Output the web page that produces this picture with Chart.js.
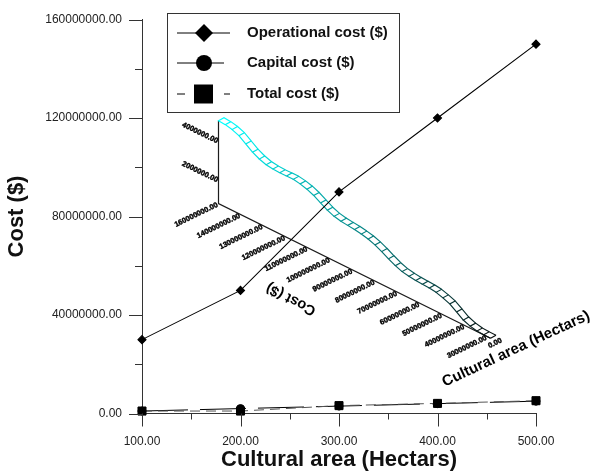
<!DOCTYPE html>
<html><head><meta charset="utf-8">
<style>html,body{margin:0;padding:0;background:#fff}canvas{display:block}</style>
<script src="https://cdn.jsdelivr.net/npm/chart.js@4"></script></head>
<body><canvas id="c" width="591" height="474"></canvas>
<script>
const areas = [100, 200, 300, 400, 500];
const operational = [30000000, 50000000, 90000000, 120000000, 150000000];
const capital = [1000000, 2000000, 3000000, 4000000, 5000000];
const total = [1000000, 1000000, 3200000, 4100000, 5200000];
const xMajor = [100, 200, 300, 400, 500];
const xTickLabels = ['100.00', '200.00', '300.00', '400.00', '500.00'];
const yMajor = [0, 40000000, 80000000, 120000000, 160000000];
const yTickLabels = ['0.00', '40000000.00', '80000000.00', '120000000.00', '160000000.00'];

// Inset 3-D ribbon: position along the cost floor axis (millions) and height (millions)
const insetCost = [160,156,152,148,144,140,136,132,128,124,120,116,112,108,104,100,96,92,88,84,80,76,72,68,64,60,56,52,48,44,40,36,32,28,24,20,16,12,8,4,0];
const insetHeight = [4.25,4.22,4.14,4.00,3.75,3.50,3.32,3.20,3.15,3.13,3.14,3.14,3.08,2.98,2.83,2.62,2.42,2.28,2.20,2.16,2.12,2.06,1.98,1.85,1.68,1.48,1.30,1.17,1.10,1.06,1.04,1.02,0.97,0.86,0.72,0.48,0.24,0.10,0.02,0,0];
const insetCostLabels = ['160000000.00','140000000.00','130000000.00','120000000.00','110000000.00','100000000.00','90000000.00','80000000.00','70000000.00','60000000.00','50000000.00','40000000.00','30000000.00'];
const insetHeightTicks = [2, 4];
const insetHeightLabels = ['2000000.00', '4000000.00'];

const ink = '#1c1c1c';
const FONT = '"Liberation Sans", Arial, sans-serif';

function project(chart, cost, h) {
  const sx = chart.scales.insetX, sy = chart.scales.insetY;
  const x = sx.getPixelForValue(cost);
  const x0 = sx.getPixelForValue(160);
  return [x, sy.getPixelForValue(h) + 0.495 * (x - x0)];
}

const insetPlugin = {
  id: 'inset',
  beforeDatasetsDraw(chart) {
    const ctx = chart.ctx;
    ctx.save();
    const o = project(chart, 160, 0), end = project(chart, 0, 0), top = project(chart, 160, 4.25);
    ctx.strokeStyle = ink; ctx.lineWidth = 1.2;
    ctx.beginPath(); ctx.moveTo(top[0], top[1]); ctx.lineTo(o[0], o[1]); ctx.lineTo(end[0], end[1]); ctx.stroke();
    // ribbon
    const dx = 5.5, dy = -3, n = insetCost.length;
    ctx.lineWidth = 1.15;
    for (let i = 0; i < n; i++) {
      const p = project(chart, insetCost[i], insetHeight[i]);
      const f = i / (n - 1);
      const col = `rgb(${Math.round(10*f)},${Math.round(255*(1-f*0.95))},${Math.round(255*(1-f*0.95))})`;
      ctx.strokeStyle = col;
      ctx.beginPath();
      if (i < n - 1) {
        const q = project(chart, insetCost[i+1], insetHeight[i+1]);
        ctx.moveTo(q[0], q[1]); ctx.lineTo(p[0], p[1]); ctx.lineTo(p[0]+dx, p[1]+dy); ctx.lineTo(q[0]+dx, q[1]+dy);
      } else {
        ctx.moveTo(p[0], p[1]); ctx.lineTo(p[0]+dx, p[1]+dy);
      }
      ctx.stroke();
    }
    // labels
    ctx.fillStyle = '#000';
    const rot = (x, y, a, t, align, font, heavy) => {
      ctx.save(); ctx.translate(x, y); ctx.rotate(a * Math.PI / 180);
      ctx.font = font; ctx.textAlign = align; ctx.textBaseline = 'middle';
      ctx.fillText(t, 0, 0);
      if (heavy) { ctx.strokeStyle = '#000'; ctx.lineWidth = 0.4; ctx.strokeText(t, 0, 0); }
      ctx.restore();
    };
    const small = 'bold 7.4px ' + FONT;
    const step = 13.18;
    insetCostLabels.forEach((t, i) => {
      const p = project(chart, 160 - i * step, 0);
      rot(p[0] - 1, p[1] + 1, -26, t, 'right', small, true);
    });
    const zero = project(chart, 0, 0);
    rot(zero[0] + 11, zero[1] + 2, -26, '0.00', 'right', small, true);
    insetHeightTicks.forEach((v, i) => {
      const p = project(chart, 160, v);
      rot(p[0] - 1, p[1] + 16, 26, insetHeightLabels[i], 'right', small, true);
    });
    rot(291, 299, 207.5, 'Cost ($)', 'center', 'bold 14.5px ' + FONT);
    rot(516, 349, -25, 'Cultural area (Hectars)', 'center', 'bold 15px ' + FONT);
    ctx.restore();
  }
};

const frame = {
  id: 'frame',
  afterDraw(chart) {
    const ctx = chart.ctx, xs = chart.scales.x, ys = chart.scales.y;
    ctx.save();
    ctx.strokeStyle = '#333'; ctx.lineWidth = 1;
    xs.ticks.forEach(t => {
      const p = Math.round(xs.getPixelForValue(t.value)) + 0.5;
      const len = xMajor.includes(t.value) ? 13 : 6;
      ctx.beginPath(); ctx.moveTo(p, ys.bottom); ctx.lineTo(p, ys.bottom + len); ctx.stroke();
    });
    ys.ticks.forEach(t => {
      const p = Math.round(ys.getPixelForValue(t.value)) + 0.5;
      const len = yMajor.includes(t.value) ? 13 : 7;
      ctx.beginPath(); ctx.moveTo(xs.left, p); ctx.lineTo(xs.left - len, p); ctx.stroke();
    });
    // legend
    ctx.fillStyle = '#fff'; ctx.strokeStyle = '#333'; ctx.lineWidth = 1;
    ctx.fillRect(167.5, 13.5, 232, 99); ctx.strokeRect(167.5, 13.5, 232, 99);
    const rows = [[33, 177, 230, 204, []], [63, 177, 224, 204, []], [94, 177, 230, 203.5, [8, 39, 6]]];
    chart.data.datasets.forEach((d, i) => {
      const [y, a, b, m, dash] = rows[i];
      ctx.strokeStyle = '#000'; ctx.lineWidth = 1; ctx.setLineDash(dash);
      ctx.beginPath(); ctx.moveTo(a, y); ctx.lineTo(b, y); ctx.stroke();
      ctx.setLineDash([]);
      ctx.fillStyle = '#000';
      ctx.beginPath();
      if (d.pointStyle === 'rectRot') { ctx.moveTo(m-9,y); ctx.lineTo(m,y-9); ctx.lineTo(m+9,y); ctx.lineTo(m,y+9); ctx.closePath(); }
      else if (d.pointStyle === 'circle') { ctx.arc(m, y, 8, 0, Math.PI*2); }
      else { ctx.rect(m-9.5, y-9.5, 19, 19); }
      ctx.fill();
      ctx.font = 'bold 15px ' + FONT; ctx.textAlign = 'left'; ctx.textBaseline = 'middle';
      ctx.fillStyle = '#111';
      ctx.fillText(d.label, 247, y);
    });
    ctx.restore();
  }
};

new Chart(document.getElementById('c'), {
  type: 'line',
  plugins: [insetPlugin, frame],
  data: {
    labels: areas,
    datasets: [
      { label: 'Operational cost ($)', data: areas.map((x, i) => ({x, y: operational[i]})), order: 2,
        borderColor: '#000', backgroundColor: '#000', borderWidth: 1.1, pointStyle: 'rectRot', pointRadius: 4, clip: false, xAxisID:'x', yAxisID:'y' },
      { label: 'Capital cost ($)', data: areas.map((x, i) => ({x, y: capital[i]})), order: 1,
        borderColor: '#000', backgroundColor: '#000', borderWidth: 1, borderDash: [46, 12], pointStyle: 'circle', pointRadius: 4, clip: false, xAxisID:'x', yAxisID:'y' },
      { label: 'Total cost ($)', data: areas.map((x, i) => ({x, y: total[i]})), order: 0,
        borderColor: '#555', backgroundColor: '#000', pointBorderColor: '#000', borderWidth: 1, borderDash: [10, 6], pointStyle: 'rect', pointRadius: 5.7, clip: false, xAxisID:'x', yAxisID:'y' }
    ]
  },
  options: {
    responsive: false, animation: false, devicePixelRatio: 1,
    layout: { padding: { left: 0, right: 55, top: 19.5, bottom: 0 } },
    plugins: { legend: { display: false }, tooltip: { enabled: false }, title: { display: false } },
    scales: {
      x: { type: 'linear', min: 100, max: 500,
        afterFit(s) { s.height = 60.5; s.paddingLeft = 0; s.paddingRight = 0; },
        grid: { drawOnChartArea: false, drawTicks: false },
        border: { color: '#333', width: 1 },
        ticks: { stepSize: 50, autoSkip: false, maxRotation: 0, padding: 21, color: '#222',
          font: { family: FONT, size: 12 },
          callback: v => { const i = xMajor.indexOf(v); return i < 0 ? '' : xTickLabels[i]; } },
        title: { display: true, text: 'Cultural area (Hectars)', color: '#111', padding: { top: 0, bottom: 1 },
          font: { family: FONT, size: 22, weight: 'bold' } } },
      y: { type: 'linear', min: 0, max: 160000000,
        afterFit(s) { s.width = 142; s.paddingTop = 0; s.paddingBottom = 0; },
        grid: { drawOnChartArea: false, drawTicks: false },
        border: { color: '#333', width: 1 },
        ticks: { stepSize: 20000000, autoSkip: false, padding: 20, color: '#222',
          font: { family: FONT, size: 12 },
          callback: v => { const i = yMajor.indexOf(v); return i < 0 ? '' : yTickLabels[i]; } },
        title: { display: true, text: 'Cost ($)', color: '#111', padding: { top: 4, bottom: 0 },
          font: { family: FONT, size: 22, weight: 'bold' } } },
      insetX: { type: 'linear', axis: 'x', position: 'top', display: false, reverse: true, min: -26.76, max: 205 },
      insetY: { type: 'linear', axis: 'y', position: 'right', display: false, min: -10.77, max: 9.44 }
    }
  }
});
</script></body></html>
